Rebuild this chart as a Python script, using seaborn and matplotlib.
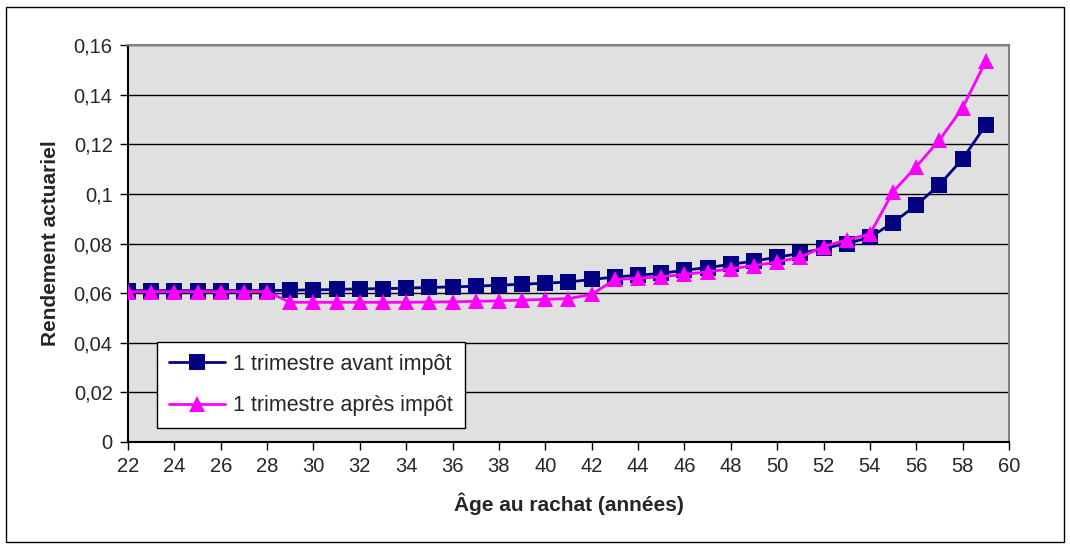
import matplotlib
matplotlib.use("Agg")
import matplotlib.pyplot as plt
import seaborn as sns
import pandas as pd
import numpy as np

# Age at surrender (years)
ages = list(range(22, 60))

# Actuarial yield, one quarter, before tax
avant_impot = [0.061, 0.061, 0.061, 0.061, 0.061, 0.061, 0.061,
               0.0612, 0.0613, 0.0615, 0.0617, 0.0618, 0.0620, 0.0623,
               0.0625, 0.0628, 0.0632, 0.0636, 0.0640, 0.0645, 0.0655,
               0.0665, 0.0672, 0.0680, 0.0692, 0.0703, 0.0716, 0.0729,
               0.0745, 0.0760, 0.0780, 0.0800, 0.0825, 0.0884, 0.0955,
               0.1037, 0.1141, 0.1278]

# Actuarial yield, one quarter, after tax
apres_impot = [0.0606, 0.0606, 0.0606, 0.0606, 0.0606, 0.0606, 0.0606,
               0.0563, 0.0563, 0.0563, 0.0563, 0.0563, 0.0563, 0.0564,
               0.0565, 0.0567, 0.0569, 0.0572, 0.0575, 0.0578, 0.0595,
               0.0655, 0.0660, 0.0666, 0.0676, 0.0686, 0.0698, 0.0711,
               0.0726, 0.0745, 0.0787, 0.0815, 0.0838, 0.1009, 0.1110,
               0.1217, 0.1348, 0.1535]

series_names = ["1 trimestre avant impôt", "1 trimestre après impôt"]
x_ticks = list(range(22, 61, 2))
y_ticks = [0, 0.02, 0.04, 0.06, 0.08, 0.10, 0.12, 0.14, 0.16]
y_tick_labels = ["0", "0,02", "0,04", "0,06", "0,08", "0,1", "0,12", "0,14", "0,16"]

df = pd.DataFrame({
    "age": ages * 2,
    "rendement": avant_impot + apres_impot,
    "serie": [series_names[0]] * len(ages) + [series_names[1]] * len(ages),
})

sns.set_theme(style="white")
plt.rcParams["font.family"] = ["Liberation Sans", "DejaVu Sans"]

fig = plt.figure(figsize=(10.70, 5.49), dpi=100)
ax = fig.add_axes([0.1196, 0.1949, 0.8234, 0.7231])
ax.set_facecolor("#E0E0E0")

palette = {series_names[0]: "#000080", series_names[1]: "#FF00FF"}
markers = {series_names[0]: "s", series_names[1]: "^"}
sns.lineplot(data=df, x="age", y="rendement", hue="serie", style="serie",
             palette=palette, markers=markers, dashes=False, markersize=11,
             markeredgewidth=0, linewidth=2, ax=ax, sort=False, zorder=3)

ax.set_xlim(22, 60)
ax.set_ylim(0, 0.16)
ax.set_xticks(x_ticks)
ax.set_xticklabels([str(t) for t in x_ticks], fontsize=14.5)
ax.set_yticks(y_ticks)
ax.set_yticklabels(y_tick_labels, fontsize=14.5)
ax.tick_params(axis="both", direction="out", length=6, width=1, color="black",
               bottom=True, left=True, pad=5)
ax.yaxis.grid(True, color="black", linewidth=1)
ax.set_axisbelow(True)

for side in ["left", "bottom"]:
    ax.spines[side].set_color("black")
    ax.spines[side].set_linewidth(1.5)
for side in ["top", "right"]:
    ax.spines[side].set_color("#808080")
    ax.spines[side].set_linewidth(1.5)

ax.set_xlabel("Âge au rachat (années)", fontsize=15, fontweight="bold", labelpad=12)
ax.set_ylabel("Rendement actuariel", fontsize=15, fontweight="bold", labelpad=10)

leg = ax.legend(loc="lower left", bbox_to_anchor=(0.033, 0.035), fontsize=15.5,
                frameon=True, fancybox=False, edgecolor="black", facecolor="white",
                framealpha=1, borderpad=0.55, labelspacing=0.95, handlelength=2.6,
                handletextpad=0.4, borderaxespad=0)
leg.get_frame().set_linewidth(1)

# outer frame around the whole figure
fig.patches.append(plt.Rectangle((0.006, 0.012), 0.988, 0.976, transform=fig.transFigure,
                                 fill=False, edgecolor="black", linewidth=1))

fig.savefig("out.png", dpi=100)
